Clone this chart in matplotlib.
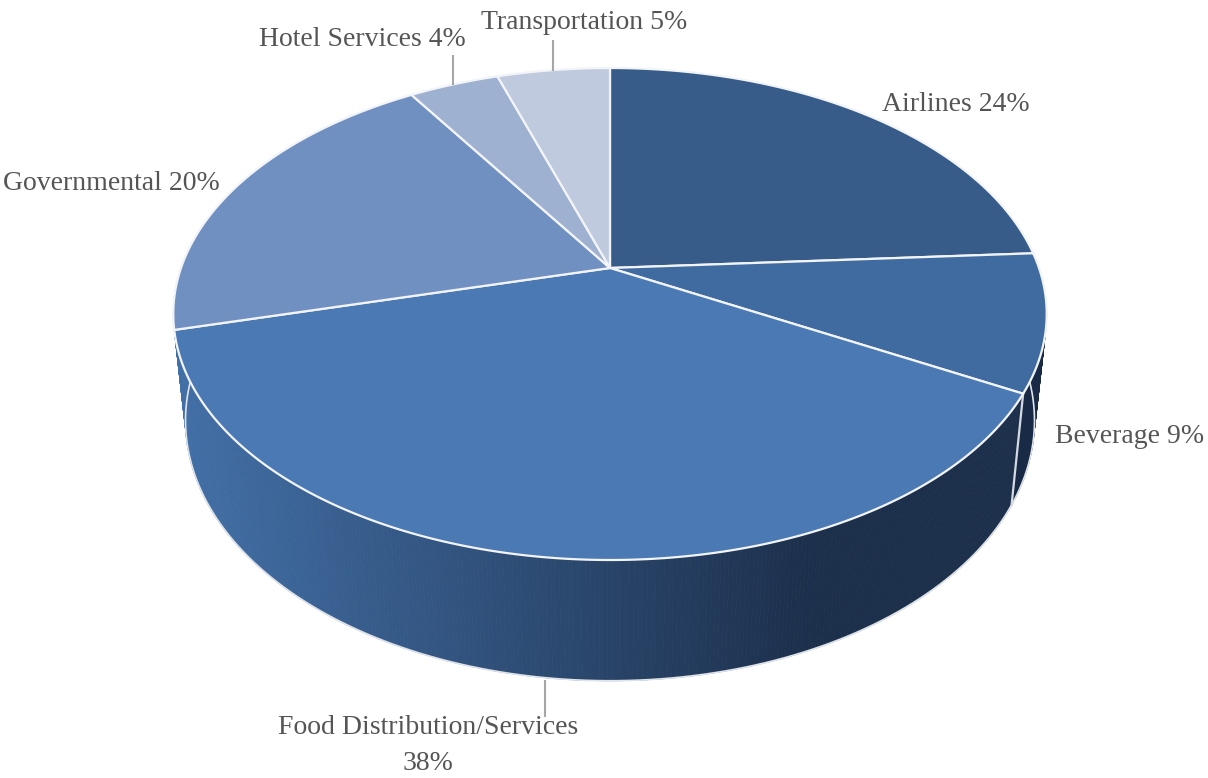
import numpy as np
import matplotlib
matplotlib.use("Agg")
import matplotlib.pyplot as plt
from matplotlib.patches import Polygon
from matplotlib.collections import PolyCollection
from matplotlib.colors import to_rgb

categories = ["Airlines", "Beverage", "Food Distribution/Services", "Governmental", "Hotel Services", "Transportation"]
values = [24, 9, 38, 20, 4, 5]
top_colors = ["#385c89", "#406ba0", "#4a79b3", "#7090c1", "#9fb1d1", "#bfcadf"]

W, H = 1208, 778
fig = plt.figure(figsize=(W / 100, H / 100), dpi=100)
ax = fig.add_axes([0, 0, 1, 1])
ax.set_xlim(0, W)
ax.set_ylim(H, 0)
ax.axis("off")

K = 0.187
def top_pt(t):
    th = 2 * np.pi * np.asarray(t)
    d = 1 + K * np.cos(th)
    return 610 + 429 * np.sin(th) / d, 268 - 237.4 * np.cos(th) / d

def bot_pt(t):
    th = 2 * np.pi * np.asarray(t)
    d = 1 + K * np.cos(th)
    return 610 + 417 * np.sin(th) / d, 372 - 251 * np.cos(th) / d

fr = np.array(values, float) / sum(values)
edges = np.concatenate([[0], np.cumsum(fr)])

# Side wall
c0, c1 = np.array(to_rgb("#426fa6")), np.array(to_rgb("#1c2f4b"))
ts = np.linspace(0.235, 0.765, 400)
polys, cols = [], []
for a, b in zip(ts[:-1], ts[1:]):
    xa, ya = top_pt(a); xb, yb = top_pt(b)
    xc, yc = bot_pt(b); xd, yd = bot_pt(a)
    polys.append([(xa, ya), (xb, yb), (xc, yc), (xd, yd)])
    m = (a + b) / 2
    if m < edges[2]:
        cols.append(to_rgb("#182a45"))
    else:
        f = np.clip((810 - bot_pt(m)[0]) / 620, 0, 1)
        cols.append(tuple(c1 + (c0 - c1) * f))
ax.add_collection(PolyCollection(polys, facecolors=cols, edgecolors=cols, linewidths=0.6, zorder=1))

# Wall outline and separator
tt = np.linspace(0.25, 0.75, 300)
bx, by = bot_pt(tt)
ax.plot(bx, by, color="#dfe3ea", lw=1.2, zorder=1.5)
ax.plot(*zip(top_pt(edges[2]), bot_pt(edges[2])), color="#d5dae2", lw=1.6, zorder=2)

# Top faces
for i, c in enumerate(top_colors):
    t = np.linspace(edges[i], edges[i + 1], 200)
    x, y = top_pt(t)
    pts = np.column_stack([np.r_[610, x], np.r_[268, y]])
    ax.add_patch(Polygon(pts, closed=True, facecolor=c, edgecolor="#f2f4f8", lw=1.6, joinstyle="round", zorder=3))

# Leaders
for (x, y0, y1) in [(453, 55, 85), (553, 40, 71), (545, 680, 717)]:
    ax.plot([x, x], [y0, y1], color="#a6a6a6", lw=1.5, zorder=4, solid_capstyle="butt")

# Labels
style = dict(family="Liberation Serif", fontsize=20, color="#555555", va="center", zorder=5)
pct = [f"{v}%" for v in values]
ax.text(956, 104, f"{categories[0]} {pct[0]}", ha="center", **style)
ax.text(1130, 436, f"{categories[1]} {pct[1]}", ha="center", **style)
ax.text(428, 727, categories[2], ha="center", **style)
ax.text(428, 763, pct[2], ha="center", **style)
ax.text(111, 183, f"{categories[3]} {pct[3]}", ha="center", **style)
ax.text(362, 39, f"{categories[4]} {pct[4]}", ha="center", **style)
ax.text(584, 22, f"{categories[5]} {pct[5]}", ha="center", **style)

fig.savefig("out.png", dpi=100)
